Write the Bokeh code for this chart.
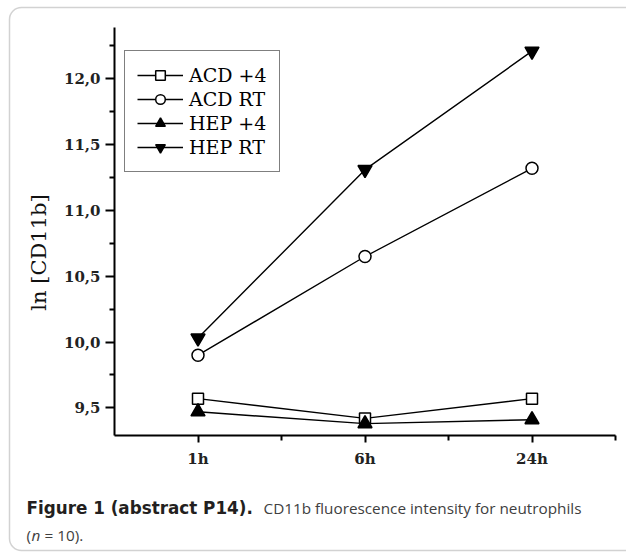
import math
from bokeh.plotting import figure
from bokeh.models import (FixedTicker, CustomJSTickFormatter, Legend, LegendItem,
                          Label, BoxAnnotation, Range1d)
from bokeh.embed import file_html
from bokeh.resources import INLINE

# ---- data ----
times = ["1h", "6h", "24h"]
acd_4 = [9.57, 9.42, 9.57]
acd_rt = [9.90, 10.65, 11.32]
hep_4 = [9.47, 9.38, 9.41]
hep_rt = [10.03, 11.31, 12.21]
y_ticks = [9.5, 10.0, 10.5, 11.0, 11.5, 12.0]
y_tick_labels = ["9,5", "10,0", "10,5", "11,0", "11,5", "12,0"]
y_minor = [9.75, 10.25, 10.75, 11.25, 11.75, 12.25]
series_names = ["ACD +4", "ACD RT", "HEP +4", "HEP RT"]
caption_bold = "Figure 1 (abstract P14)."
caption_text = "CD11b fluorescence intensity for neutrophils"
caption_line2 = ["(", "n", "= 10)."]
y_label = "ln [CD11b]"

x = list(range(1, len(times) + 1))
X_LO, X_HI = 0.5, len(times) + 0.5
Y_LO, Y_HI = 9.29, 12.39

# ---- layout (pixels) ----
W, H = 626, 552
AX_LEFT, AX_RIGHT = 114, 615      # pixel x of X_LO / X_HI
AX_TOP, AX_BOTTOM = 27, 435       # pixel y of Y_HI / Y_LO
kx = (X_HI - X_LO) / (AX_RIGHT - AX_LEFT)
ky = (Y_HI - Y_LO) / (AX_BOTTOM - AX_TOP)
xr = Range1d(X_LO - AX_LEFT * kx, X_HI + (W - AX_RIGHT) * kx)
yr = Range1d(Y_LO - (H - AX_BOTTOM) * ky, Y_HI + AX_TOP * ky)

p = figure(width=W, height=H, output_backend="svg", toolbar_location=None,
           x_range=xr, y_range=yr, min_border=0,
           min_border_left=0, min_border_right=0, min_border_top=0,
           min_border_bottom=0, background_fill_color="white",
           border_fill_color="white")
p.outline_line_color = None
p.grid.visible = False

serif = "DejaVu Serif"
# y axis
ya = p.yaxis[0]
ya.fixed_location = X_LO
ya.bounds = (Y_LO, Y_HI)
ya.ticker = FixedTicker(ticks=y_ticks, minor_ticks=y_minor)
ya.formatter = CustomJSTickFormatter(args=dict(vals=y_ticks, labs=y_tick_labels), code="""
    for (let i = 0; i < vals.length; i++) { if (Math.abs(vals[i]-tick) < 1e-6) return labs[i]; }
    return '';
""")
ya.major_label_text_font = serif
ya.major_label_text_font_size = "15px"
ya.major_label_text_font_style = "bold"
ya.major_label_text_color = "#222"
ya.major_label_standoff = 5
ya.major_tick_out = 9
ya.major_tick_in = 0
ya.minor_tick_out = 5
ya.minor_tick_in = 0
ya.axis_line_width = 2
ya.major_tick_line_width = 2
ya.minor_tick_line_width = 2

# y axis title (rotated text)
p.add_layout(Label(x=38, y=H - 252, x_units="screen", y_units="screen",
                   text=y_label, angle=math.pi / 2, text_font=serif,
                   text_font_size="21px", text_color="#111",
                   text_align="center", text_baseline="middle"))

# x axis
xa = p.xaxis[0]
xa.fixed_location = Y_LO
xa.bounds = (X_LO, X_HI)
xa.ticker = FixedTicker(ticks=x, minor_ticks=[i + 0.5 for i in x])
xa.formatter = CustomJSTickFormatter(args=dict(labs=times), code="""
    const i = Math.round(tick) - 1;
    return (i >= 0 && i < labs.length) ? labs[i] : '';
""")
xa.major_label_text_font = serif
xa.major_label_text_font_size = "15px"
xa.major_label_text_font_style = "bold"
xa.major_label_text_color = "#222"
xa.major_label_standoff = 7
xa.major_tick_out = 7
xa.major_tick_in = 0
xa.minor_tick_out = 5
xa.minor_tick_in = 0
xa.axis_line_width = 2
xa.major_tick_line_width = 2
xa.minor_tick_line_width = 2

# series
specs = [
    (acd_4, "square", 11, "white"),
    (acd_rt, "circle", 12, "white"),
    (hep_4, "triangle", 14, "black"),
    (hep_rt, "inverted_triangle", 14, "black"),
]
items = []
for name, (vals, marker, size, fill) in zip(series_names, specs):
    ln = p.line(x, vals, line_color="black", line_width=1.4)
    sc = p.scatter(x, vals, marker=marker, size=size, fill_color=fill,
                   line_color="black", line_width=1.5)
    items.append(LegendItem(label=name, renderers=[ln, sc]))

legend = Legend(items=items, location=(124, H - 172))
legend.border_line_color = "black"
legend.border_line_width = 1.5
legend.background_fill_color = "white"
legend.background_fill_alpha = 1
legend.padding = 12
legend.spacing = 0
legend.margin = 0
legend.glyph_height = 24
legend.glyph_width = 46
legend.label_height = 24
legend.label_standoff = 6
legend.label_text_font = serif
legend.label_text_font_size = "19px"
legend.label_text_color = "black"
p.add_layout(legend, "center")

# outer rounded border
p.add_layout(BoxAnnotation(left=9, right=640, top=H - 7, bottom=H - 550,
                           left_units="screen", right_units="screen",
                           top_units="screen", bottom_units="screen",
                           fill_alpha=0, line_color="#6b6b6b", line_width=1.5,
                           border_radius=12, level="underlay"))

# caption
p.add_layout(Label(x=26, y=H - 507, x_units="screen", y_units="screen",
                   text=caption_bold, text_font="DejaVu Sans", text_font_style="bold",
                   text_font_size="16.8px", text_color="#231f20",
                   text_baseline="middle"))
p.add_layout(Label(x=263, y=H - 507, x_units="screen", y_units="screen",
                   text=caption_text, text_font="Open Sans",
                   text_font_size="15.3px", text_color="#404040",
                   text_baseline="middle"))
for part, px, style in zip(caption_line2, [26, 31, 44], ["normal", "italic", "normal"]):
    p.add_layout(Label(x=px, y=H - 534, x_units="screen", y_units="screen",
                       text=part, text_font="Open Sans", text_font_style=style,
                       text_font_size="15.3px", text_color="#404040",
                       text_baseline="middle"))

open("out.html", "w").write(file_html(p, INLINE))
